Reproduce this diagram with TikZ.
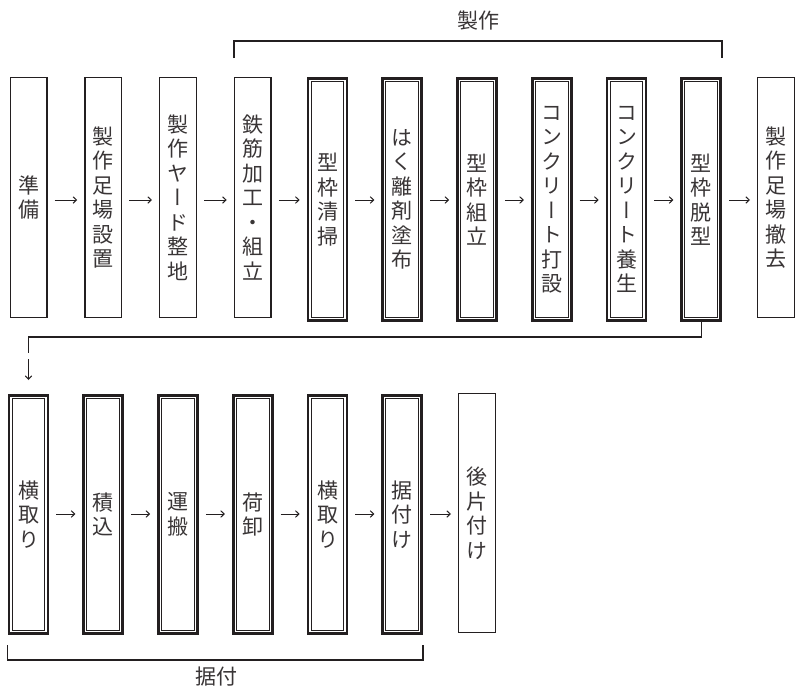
\documentclass[tikz,border=0pt]{standalone}
\usepackage{fontspec}
\newfontfamily\jp{Noto Sans CJK JP}
\newfontfamily\jpv[RawFeature=+vert]{Noto Sans CJK JP}
\usetikzlibrary{arrows.meta,calc}
\definecolor{ink}{HTML}{231F20}
\tikzset{
  vtext/.style={font={\jpv\fontsize{21}{24.5}\selectfont}, text=ink!90, align=center, inner sep=0pt},
  plainbox/.style={vtext, draw=ink, line width=1.4pt, minimum width=36.6pt},
  heavybox/.style={vtext, draw=ink, line width=2.6pt, minimum width=39pt,
    path picture={\draw[ink, line width=0.9pt]
      ([shift={(3.1pt,-3.1pt)}]path picture bounding box.north west) rectangle
      ([shift={(-3.1pt,3.1pt)}]path picture bounding box.south east);}},
  arr/.style={draw=ink, line width=1pt, -{Straight Barb[length=3.5pt,width=6.5pt]}, shorten <=7pt, shorten >=7pt},
  conn/.style={draw=ink, line width=1.5pt},
  lab/.style={font={\jp\fontsize{21}{24}\selectfont}, text=ink!90, inner sep=0pt},
}
\begin{document}
\begin{tikzpicture}[x=1pt,y=-1pt]
\useasboundingbox (0,0) rectangle (797,688);
% row 1
\node[plainbox, minimum height=239.6pt] (a1) at (28.5,197.5) {準\\備};
\node[plainbox, minimum height=239.6pt] (a2) at (103.25,197.5) {製\\作\\足\\場\\設\\置};
\node[plainbox, minimum height=239.6pt] (a3) at (178,197.5) {製\\作\\ヤ\\ー\\ド\\整\\地};
\node[plainbox, minimum height=239.6pt] (a4) at (252.75,197.5) {鉄\\筋\\加\\工\\・\\組\\立};
\node[heavybox, minimum height=242.4pt] (a5) at (327.5,199.5) {型\\枠\\清\\掃};
\node[heavybox, minimum height=242.4pt] (a6) at (402.25,199.5) {は\\く\\離\\剤\\塗\\布};
\node[heavybox, minimum height=242.4pt] (a7) at (477,199.5) {型\\枠\\組\\立};
\node[heavybox, minimum height=242.4pt] (a8) at (551.75,199.5) {コ\\ン\\ク\\リ\\ー\\ト\\打\\設};
\node[heavybox, minimum height=242.4pt] (a9) at (626.5,199.5) {コ\\ン\\ク\\リ\\ー\\ト\\養\\生};
\node[heavybox, minimum height=242.4pt] (a10) at (701.25,199.5) {型\\枠\\脱\\型};
\node[plainbox, minimum height=239.6pt] (a11) at (776,197.5) {製\\作\\足\\場\\撤\\去};
% row 2
\node[heavybox, minimum height=238.4pt] (b1) at (28.5,514.5) {横\\取\\り};
\node[heavybox, minimum height=238.4pt] (b2) at (103.25,514.5) {積\\込};
\node[heavybox, minimum height=238.4pt] (b3) at (178,514.5) {運\\搬};
\node[heavybox, minimum height=238.4pt] (b4) at (252.75,514.5) {荷\\卸};
\node[heavybox, minimum height=238.4pt] (b5) at (327.5,514.5) {横\\取\\り};
\node[heavybox, minimum height=238.4pt] (b6) at (402.25,514.5) {据\\付\\け};
\node[plainbox, minimum height=238.6pt] (b7) at (477,513) {後\\片\\付\\け};
% arrows
\foreach \i [evaluate=\i as \j using int(\i+1)] in {1,...,10}
  \draw[arr] (a\i.east |- 0,200) -- (a\j.west |- 0,200);
\foreach \i [evaluate=\i as \j using int(\i+1)] in {1,...,6}
  \draw[arr] (b\i.east |- 0,514) -- (b\j.west |- 0,514);
% return connector
\coordinate (ret) at (28.5,353);
\coordinate (arrs) at (28.5,359);
\draw[conn] (a10.south) |- ($(ret)+(0,-16)$) -- (ret);
\draw[arr, shorten <=0pt, shorten >=14pt] (arrs) -- (b1);
% brackets
\coordinate (tt) at (0,41);
\coordinate (te) at (0,58);
\draw[conn] (a4.west |- te) -- (a4.west |- tt) -- (a10.east |- tt) -- (a10.east |- te);
\coordinate (bt) at (0,660);
\coordinate (be) at (0,645);
\draw[conn] (b1.west |- be) -- (b1.west |- bt) -- (b6.east |- bt) -- (b6.east |- be);
\node[lab] (t1) at (478,21) {製作};
\node[lab] (t2) at (216,677) {据付};
\end{tikzpicture}
\end{document}
